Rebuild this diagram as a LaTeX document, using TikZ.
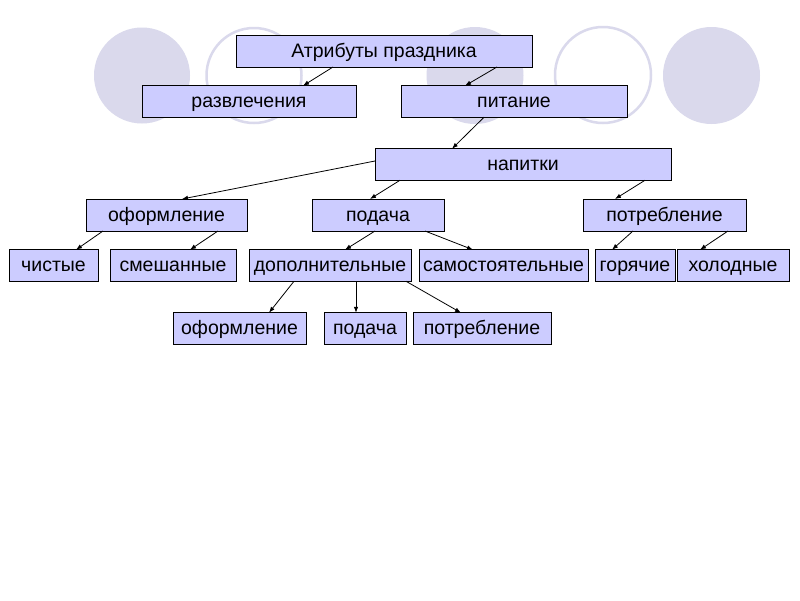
\documentclass[tikz,border=0pt]{standalone}
\usepackage{fontspec}
\setmainfont{Liberation Sans}
\usetikzlibrary{arrows.meta}
\definecolor{boxfill}{RGB}{204,204,255}
\definecolor{circ}{RGB}{218,217,236}
\begin{document}
\begin{tikzpicture}[x=1pt,y=-1pt,
  box/.style={draw=black,line width=0.8pt,fill=boxfill,inner sep=0pt,outer sep=0pt,
    minimum height=31.5pt,text height=15pt,text depth=3pt,
    font=\fontsize{19.5}{22}\selectfont,text=black},
  conn/.style={draw=black,line width=0.8pt,-{Latex[length=6pt,width=4.5pt]}},
  ring/.style={draw=circ,line width=2.5pt},
  disc/.style={fill=circ}]
\useasboundingbox (0,0) rectangle (800,600);
\fill[white] (0,0) rectangle (800,600);
% background circles
\fill[disc] (142,75.5) circle (48);
\draw[ring] (254,75.5) circle (47.5);
\fill[disc] (475,75.5) circle (48.5);
\draw[ring] (603,75) circle (48);
\fill[disc] (711.5,75.5) circle (48.5);
% nodes
\node[box,minimum width=296pt,minimum height=32pt] (A) at (384,51) {Атрибуты праздника};
\node[box,minimum width=214pt] (razv) at (249,101.5) {развлечения};
\node[box,minimum width=226pt] (pit) at (514,101.5) {питание};
\node[box,minimum width=296pt] (nap) at (523,164.5) {напитки};
\node[box,minimum width=161pt,minimum height=32pt] (oform) at (166.5,215) {оформление};
\node[box,minimum width=132pt,minimum height=32pt] (pod) at (378,215) {подача};
\node[box,minimum width=163pt,minimum height=32pt] (potr) at (664.5,215) {потребление};
\node[box,minimum width=89pt] (chist) at (53.5,265.5) {чистые};
\node[box,minimum width=126pt] (smesh) at (173,265.5) {смешанные};
\node[box,minimum width=162pt] (dop) at (330,265.5) {дополнительные};
\node[box,minimum width=169pt] (samo) at (503.5,265.5) {самостоятельные};
\node[box,minimum width=80pt] (gor) at (635,265.5) {горячие};
\node[box,minimum width=112pt] (hol) at (733,265.5) {холодные};
\node[box,minimum width=133pt] (oform2) at (239.5,328.5) {оформление};
\node[box,minimum width=82pt] (pod2) at (365,328.5) {подача};
\node[box,minimum width=138pt] (potr2) at (482,328.5) {потребление};
% connectors
\draw[conn] ([xshift=-51pt]A.south) -- ([xshift=54pt]razv.north);
\draw[conn] ([xshift=113pt]A.south) -- ([xshift=-49pt]pit.north);
\draw[conn] ([xshift=-30pt]pit.south) -- ([xshift=-71pt]nap.north);
\draw[conn] ([yshift=3.5pt]nap.west) -- ([xshift=15.5pt]oform.north);
\draw[conn] ([xshift=-123pt]nap.south) -- ([xshift=-8pt]pod.north);
\draw[conn] ([xshift=122pt]nap.south) -- ([xshift=-49.5pt]potr.north);
\draw[conn] ([xshift=-63.5pt]oform.south) -- ([xshift=22.5pt]chist.north);
\draw[conn] ([xshift=51.5pt]oform.south) -- ([xshift=17pt]smesh.north);
\draw[conn] ([xshift=-3pt]pod.south) -- ([xshift=15pt]dop.north);
\draw[conn] ([xshift=47pt]pod.south) -- ([xshift=-30.5pt]samo.north);
\draw[conn] ([xshift=-31.5pt]potr.south) -- ([xshift=-23pt]gor.north);
\draw[conn] ([xshift=63.5pt]potr.south) -- ([xshift=-33pt]hol.north);
\draw[conn] ([xshift=-36pt]dop.south) -- ([xshift=29.5pt]oform2.north);
\draw[conn] ([xshift=26pt]dop.south) -- ([xshift=-9pt]pod2.north);
\draw[conn] ([xshift=76pt]dop.south) -- ([xshift=-21pt]potr2.north);
\end{tikzpicture}
\end{document}
